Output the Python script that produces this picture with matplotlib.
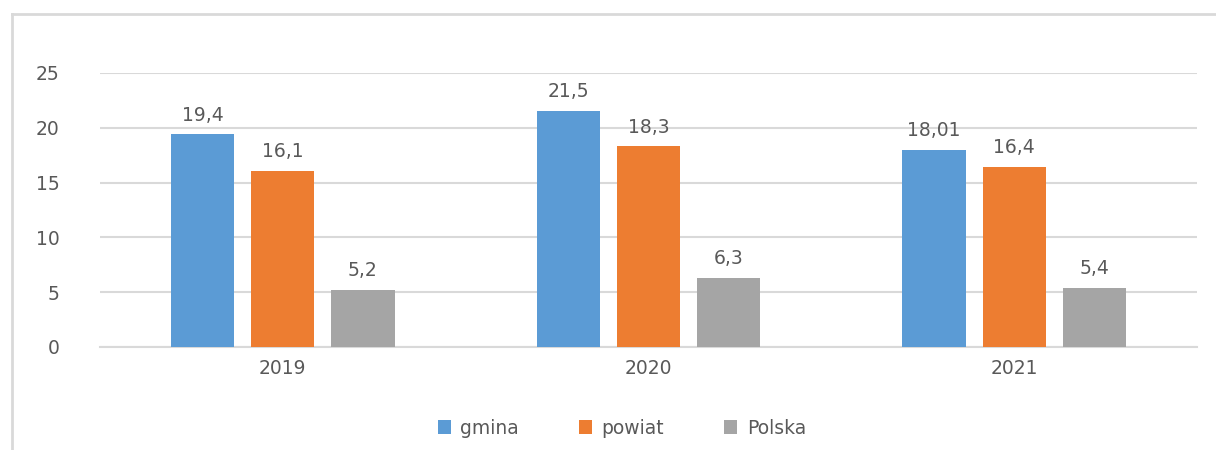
import matplotlib.pyplot as plt
from matplotlib.lines import Line2D
import numpy as np

years = ['2019', '2020', '2021']
gmina = [19.4, 21.5, 18.01]
powiat = [16.1, 18.3, 16.4]
polska = [5.2, 6.3, 5.4]
gmina_txt = ['19,4', '21,5', '18,01']
powiat_txt = ['16,1', '18,3', '16,4']
polska_txt = ['5,2', '6,3', '5,4']

colors = ['#5B9BD5', '#ED7D31', '#A5A5A5']
text_col = '#595959'
grid_col = '#D9D9D9'

plt.rcParams['font.family'] = ['DejaVu Sans']

fig = plt.figure(figsize=(12.16, 4.5), dpi=100)
ax = fig.add_axes([100 / 1216, 1 - 347 / 450, 1097 / 1216, 274 / 450])

x = np.arange(len(years))
w = 0.173
step = 0.219
series = [(gmina, gmina_txt, 'gmina'), (powiat, powiat_txt, 'powiat'), (polska, polska_txt, 'Polska')]
for i, (vals, txts, name) in enumerate(series):
    pos = x + (i - 1) * step
    bars = ax.bar(pos, vals, width=w, color=colors[i], label=name, zorder=3)
    for b, t in zip(bars, txts):
        ax.text(b.get_x() + b.get_width() / 2, b.get_height() + 0.9, t,
                ha='center', va='bottom', fontsize=13.5, color=text_col)

ax.set_xlim(-0.5, 2.5)
ax.set_ylim(0, 25)
ax.set_yticks([0, 5, 10, 15, 20, 25])
ax.set_xticks(x)
ax.set_xticklabels(years)
ax.yaxis.grid(True, color=grid_col, linewidth=1.5, zorder=0)
ax.set_axisbelow(True)
for s in ['top', 'right', 'left']:
    ax.spines[s].set_visible(False)
ax.spines['bottom'].set_color(grid_col)
ax.spines['bottom'].set_linewidth(1.5)
ax.tick_params(axis='both', length=0, labelsize=13.5, colors=text_col)
ax.tick_params(axis='y', pad=29)
ax.tick_params(axis='x', pad=9)

# outer frame (left and top visible)
fig.add_artist(Line2D([12 / 1216, 12 / 1216], [0, 1 - 14 / 450], transform=fig.transFigure,
                      color=grid_col, linewidth=2))
fig.add_artist(Line2D([12 / 1216, 1], [1 - 14 / 450, 1 - 14 / 450], transform=fig.transFigure,
                      color=grid_col, linewidth=2))

leg = fig.legend(loc='center', bbox_to_anchor=(622 / 1216, 1 - 428 / 450), ncol=3,
                 frameon=False, fontsize=13.5, handlelength=0.7, handleheight=0.7,
                 handletextpad=0.5, columnspacing=3.2)
for t in leg.get_texts():
    t.set_color(text_col)

fig.savefig('out.png', dpi=100)
